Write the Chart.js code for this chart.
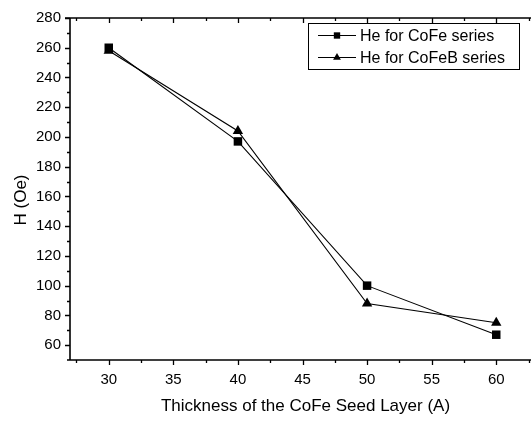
<!DOCTYPE html>
<html>
<head>
<meta charset="utf-8">
<title>H vs CoFe seed layer thickness</title>
<script src="https://cdn.jsdelivr.net/npm/chart.js@4.4.0/dist/chart.umd.min.js"></script>
<style>
  html, body { margin: 0; padding: 0; background: #fff; overflow: hidden; }
  #wrap { width: 545px; height: 421px; }
</style>
</head>
<body>
<div id="wrap"><canvas id="hChart" width="545" height="421"></canvas></div>
<script>
// seed layer thickness (A) and exchange field He (Oe)
const thickness = [30, 40, 50, 60];
const heCoFe = [260, 197, 100, 67];
const heCoFeB = [258, 204, 88, 75];
const seriesNames = ['He for CoFe series', 'He for CoFeB series'];
const xTickValues = [30, 35, 40, 45, 50, 55, 60];
const yTickValues = [60, 80, 100, 120, 140, 160, 180, 200, 220, 240, 260, 280];
const xTitle = 'Thickness of the CoFe Seed Layer (A)';
const yTitle = 'H (Oe)';

const FONT = 'Liberation Sans, Arial, sans-serif';

// axis frame, major/minor ticks, axis titles and the boxed legend
const frameAndLegend = {
  id: 'frameAndLegend',
  afterDraw(chart) {
    const ctx = chart.ctx;
    const xs = chart.scales.x, ys = chart.scales.y;
    const a = chart.chartArea;
    ctx.save();
    ctx.strokeStyle = '#000';
    ctx.fillStyle = '#000';

    // frame: left, bottom, top
    ctx.lineWidth = 1.6;
    ctx.beginPath();
    ctx.moveTo(a.left, a.top); ctx.lineTo(a.left, a.bottom);
    ctx.moveTo(a.left - 3, a.bottom); ctx.lineTo(a.right, a.bottom);
    ctx.moveTo(a.left - 5, a.top); ctx.lineTo(a.right, a.top);
    ctx.stroke();

    // x ticks every 2.5, majors on multiples of 5
    ctx.lineWidth = 1.3;
    ctx.beginPath();
    for (let v = 27.5; v <= xs.max; v += 2.5) {
      const px = Math.round(xs.getPixelForValue(v)) + 0.5;
      const len = v % 5 === 0 ? 5 : 3;
      ctx.moveTo(px, a.bottom); ctx.lineTo(px, a.bottom + len);
      ctx.moveTo(px, a.top); ctx.lineTo(px, a.top + len);
    }
    // y ticks every 10, majors on multiples of 20
    for (let v = 60; v <= ys.max; v += 10) {
      const py = Math.round(ys.getPixelForValue(v)) + 0.5;
      const len = v % 20 === 0 ? 5 : 3;
      ctx.moveTo(a.left, py); ctx.lineTo(a.left - len, py);
    }
    ctx.stroke();

    // axis titles
    ctx.font = '17px ' + FONT;
    ctx.textAlign = 'center';
    ctx.textBaseline = 'middle';
    ctx.fillText(xTitle, (a.left + a.right) / 2 + 3, 406);
    ctx.save();
    ctx.translate(21, (a.top + a.bottom) / 2 + 11);
    ctx.rotate(-Math.PI / 2);
    ctx.fillText(yTitle, 0, 0);
    ctx.restore();

    // legend box
    const bx = 308.5, by = 23.5, bw = 211, bh = 46;
    ctx.fillStyle = '#fff';
    ctx.fillRect(bx, by, bw, bh);
    ctx.lineWidth = 1;
    ctx.strokeRect(bx, by, bw, bh);
    ctx.font = '16px ' + FONT;
    ctx.textAlign = 'left';
    chart.data.datasets.forEach((ds, i) => {
      const ry = 35.5 + i * 22;
      ctx.strokeStyle = '#000';
      ctx.fillStyle = '#000';
      ctx.lineWidth = 1;
      ctx.beginPath();
      ctx.moveTo(318, ry); ctx.lineTo(356, ry);
      ctx.stroke();
      Chart.helpers.drawPoint(ctx, { pointStyle: ds.pointStyle, radius: 4.5, borderWidth: 0, rotation: 0 }, 337, ry);
      ctx.fillStyle = '#000';
      ctx.fillText(ds.label, 360, ry + 1);
    });
    ctx.restore();
  }
};

const ctx = document.getElementById('hChart').getContext('2d');

const data = {
  labels: thickness,
  datasets: [
    {
      label: seriesNames[0],
      data: thickness.map((t, i) => ({ x: t, y: heCoFe[i] })),
      borderColor: '#000',
      backgroundColor: '#000',
      borderWidth: 1.1,
      pointStyle: 'rect',
      pointRadius: 6,
      pointBorderWidth: 0,
      tension: 0
    },
    {
      label: seriesNames[1],
      data: thickness.map((t, i) => ({ x: t, y: heCoFeB[i] })),
      borderColor: '#000',
      backgroundColor: '#000',
      borderWidth: 1.1,
      pointStyle: 'triangle',
      pointRadius: 6,
      pointBorderWidth: 0,
      tension: 0
    }
  ]
};

const config = {
  type: 'line',
  data: data,
  options: {
    responsive: false,
    animation: false,
    layout: { padding: { top: 10, left: 0, right: 10, bottom: 0 } },
    plugins: {
      legend: { display: false },
      tooltip: { enabled: false }
    },
    scales: {
      x: {
        type: 'linear',
        min: 27,
        max: 63,
        afterBuildTicks: (s) => { s.ticks = xTickValues.map(v => ({ value: v })); },
        afterFit: (s) => { s.height = 61; },
        grid: { display: false, drawTicks: false },
        border: { display: false },
        ticks: { color: '#000', font: { family: FONT, size: 15 }, padding: 11, maxRotation: 0, autoSkip: false }
      },
      y: {
        min: 50,
        max: 280,
        afterBuildTicks: (s) => { s.ticks = yTickValues.map(v => ({ value: v })); },
        afterFit: (s) => { s.width = 70; },
        grid: { display: false, drawTicks: false },
        border: { display: false },
        ticks: { color: '#000', font: { family: FONT, size: 15 }, padding: 9, autoSkip: false }
      }
    }
  },
  plugins: [frameAndLegend]
};

const hChart = new Chart(ctx, config);
</script>
</body>
</html>
